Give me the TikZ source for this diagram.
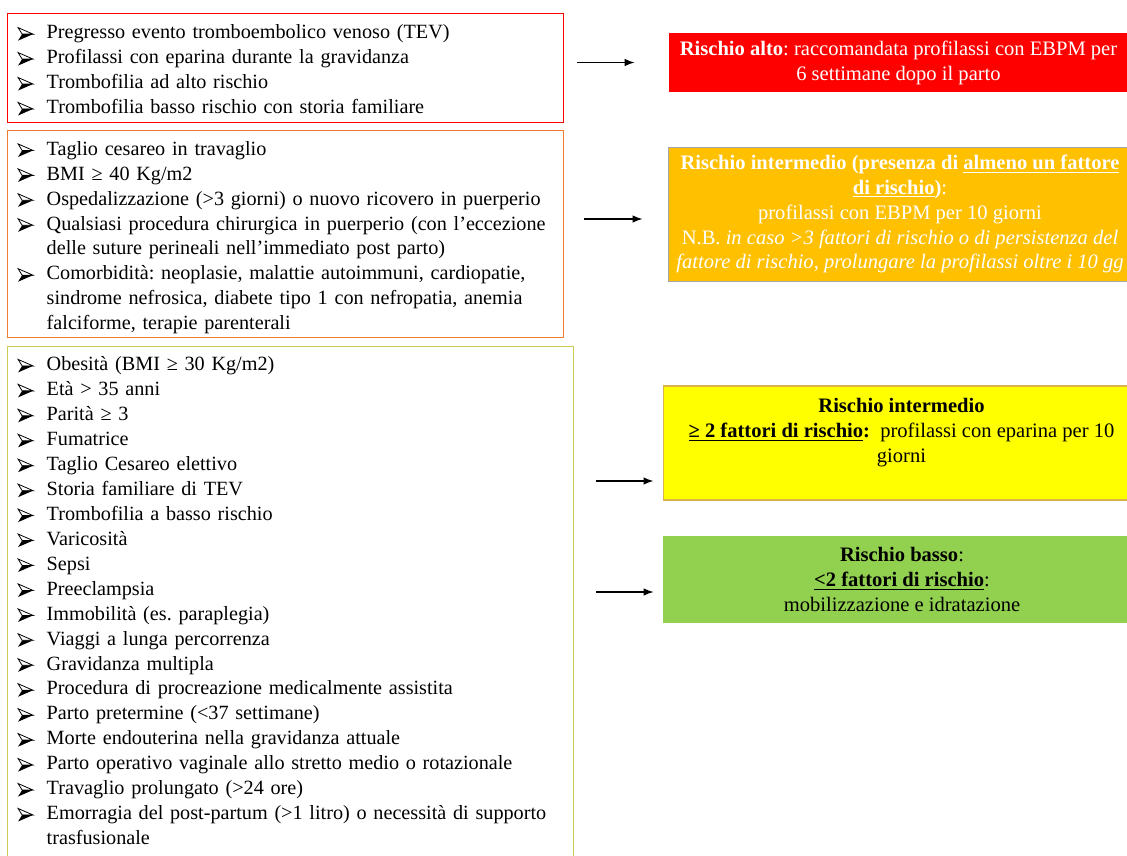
\documentclass[tikz,border=0pt]{standalone}
\usepackage{fontspec}
\setmainfont{Liberation Serif}
\usetikzlibrary{arrows.meta}
\frenchspacing

\newcommand{\highcolor}{red}
\definecolor{midorange}{HTML}{ED7D31}
\definecolor{lowolive}{HTML}{CCCC55}
\definecolor{midfill}{HTML}{FFC000}
\definecolor{highyellow}{HTML}{FFFF00}
\definecolor{lowfill}{HTML}{92D050}
\definecolor{yellowedge}{HTML}{D9B44A}

% 3-D arrowhead bullet
\newcommand{\bul}{\tikz[baseline=-2.7pt, x=1pt, y=1pt, line join=miter]{%
  \filldraw[fill=white, draw=black, line width=0.45pt] (0,3.7) -- (8.5,0) -- (2.3,0) -- cycle;
  \fill (0,-3.7) -- (8.5,0) -- (2.3,0) -- cycle;}}
\newenvironment{factors}{\begin{list}{\bul}{\setlength{\leftmargin}{0.58cm}%
  \setlength{\labelwidth}{0.58cm}\setlength{\labelsep}{0pt}%
  \setlength{\rightmargin}{-0.5cm}\setlength{\itemsep}{0pt}%
  \setlength{\parsep}{0pt}\setlength{\topsep}{0pt}\setlength{\partopsep}{0pt}%
  \renewcommand{\makelabel}[1]{##1\hfil}}\raggedright}{\end{list}}

\begin{document}
\begin{tikzpicture}[x=0.02cm, y=-0.02cm,
  every node/.style={font=\fontsize{11.7}{14.2}\selectfont},
  listbox/.style={anchor=north west, line width=0.8pt, inner xsep=0.2cm, inner ysep=0pt, text width=10.72cm, minimum width=11.12cm, font=\fontsize{11.5}{14.2}\selectfont},
  outbox/.style={align=center, inner sep=0pt},
  arrow/.style={-{Latex[length=0.2cm,width=0.15cm]}, line width=0.8pt}]

\useasboundingbox (0,0) rectangle (1127,856);
\clip (0,0) rectangle (1127,856);

% risk factors
\node[listbox, draw=\highcolor, minimum height=2.18cm] (riskHigh) at (7,13) {\vspace*{-0.14cm}\begin{factors}
\item Pregresso evento tromboembolico venoso (TEV)
\item Profilassi con eparina durante la gravidanza
\item Trombofilia ad alto rischio
\item Trombofilia basso rischio con storia familiare
\end{factors}};

\node[listbox, draw=midorange, minimum height=4.14cm] (riskMid) at (7,130) {\vspace*{-0.08cm}\begin{factors}
\item Taglio cesareo in travaglio
\item BMI ≥ 40 Kg/m2
\item Ospedalizzazione (>3 giorni) o nuovo ricovero in puerperio
\item Qualsiasi procedura chirurgica in puerperio (con l’eccezione\\delle suture perineali nell’immediato post parto)
\item Comorbidità: neoplasie, malattie autoimmuni, cardiopatie,\\sindrome nefrosica, diabete tipo 1 con nefropatia, anemia\\falciforme, terapie parenterali
\end{factors}};

\node[listbox, draw=lowolive, text width=10.92cm, minimum width=11.32cm, inner ysep=0.14cm] (riskLow) at (7,346) {\vspace*{-0.16cm}\begin{factors}
\item Obesità (BMI ≥ 30 Kg/m2)
\item Età > 35 anni
\item Parità ≥ 3
\item Fumatrice
\item Taglio Cesareo elettivo
\item Storia familiare di TEV
\item Trombofilia a basso rischio
\item Varicosità
\item Sepsi
\item Preeclampsia
\item Immobilità (es. paraplegia)
\item Viaggi a lunga percorrenza
\item Gravidanza multipla
\item Procedura di procreazione medicalmente assistita
\item Parto pretermine (<37 settimane)
\item Morte endouterina nella gravidanza attuale
\item Parto operativo vaginale allo stretto medio o rotazionale
\item Travaglio prolungato (>24 ore)
\item Emorragia del post-partum (>1 litro) o necessità di supporto\\trasfusionale
\end{factors}\par\noindent\rule{0pt}{0.5cm}};

% outcomes
\node[outbox, fill=red, text=white, minimum width=9.18cm, minimum height=1.18cm] (outHigh) at (898.5,62.5) {\textbf{Rischio alto}: raccomandata profilassi con EBPM per\\6 settimane dopo il parto};

\node[outbox, fill=midfill, draw=gray!70, line width=0.5pt, text=white, minimum width=9.28cm, minimum height=2.68cm] (outMid) at (900,214) {\textbf{Rischio intermedio (presenza di \underline{almeno un fattore}}\\\textbf{\underline{di rischio})}:\\profilassi con EBPM per 10 giorni\\N.B. \textit{in caso >3 fattori di rischio o di persistenza del}\\\textit{fattore di rischio, prolungare la profilassi oltre i 10 gg}};

\node[outbox, fill=highyellow, draw=yellowedge, line width=0.6pt, minimum width=9.54cm, minimum height=2.28cm] (outMidTwo) at (901.5,443) {\textbf{Rischio intermedio}\\\textbf{\underline{≥ 2 fattori di rischio}:}\ \ profilassi con eparina per 10\\giorni\\~};

\node[outbox, fill=lowfill, minimum width=9.56cm, minimum height=1.74cm] (outLow) at (902,579.5) {\textbf{Rischio basso}:\\\textbf{\underline{<2 fattori di rischio}}:\\mobilizzazione e idratazione};

% arrows
\draw[arrow, shorten <=0.26cm, shorten >=0.68cm] (riskHigh.east |- outHigh.west) -- (outHigh.west);
\coordinate (midIn) at ([yshift=-0.1cm]outMid.west);
\draw[arrow, shorten <=0.4cm, shorten >=0.5cm] (riskMid.east |- midIn) -- (midIn);
\coordinate (midTwoIn) at ([yshift=-0.76cm]outMidTwo.west);
\draw[arrow, shorten <=0.44cm, shorten >=0.18cm] (riskLow.east |- midTwoIn) -- (midTwoIn);
\coordinate (lowIn) at ([yshift=-0.25cm]outLow.west);
\draw[arrow, shorten <=0.44cm, shorten >=0.18cm] (riskLow.east |- lowIn) -- (lowIn);

\end{tikzpicture}
\end{document}
